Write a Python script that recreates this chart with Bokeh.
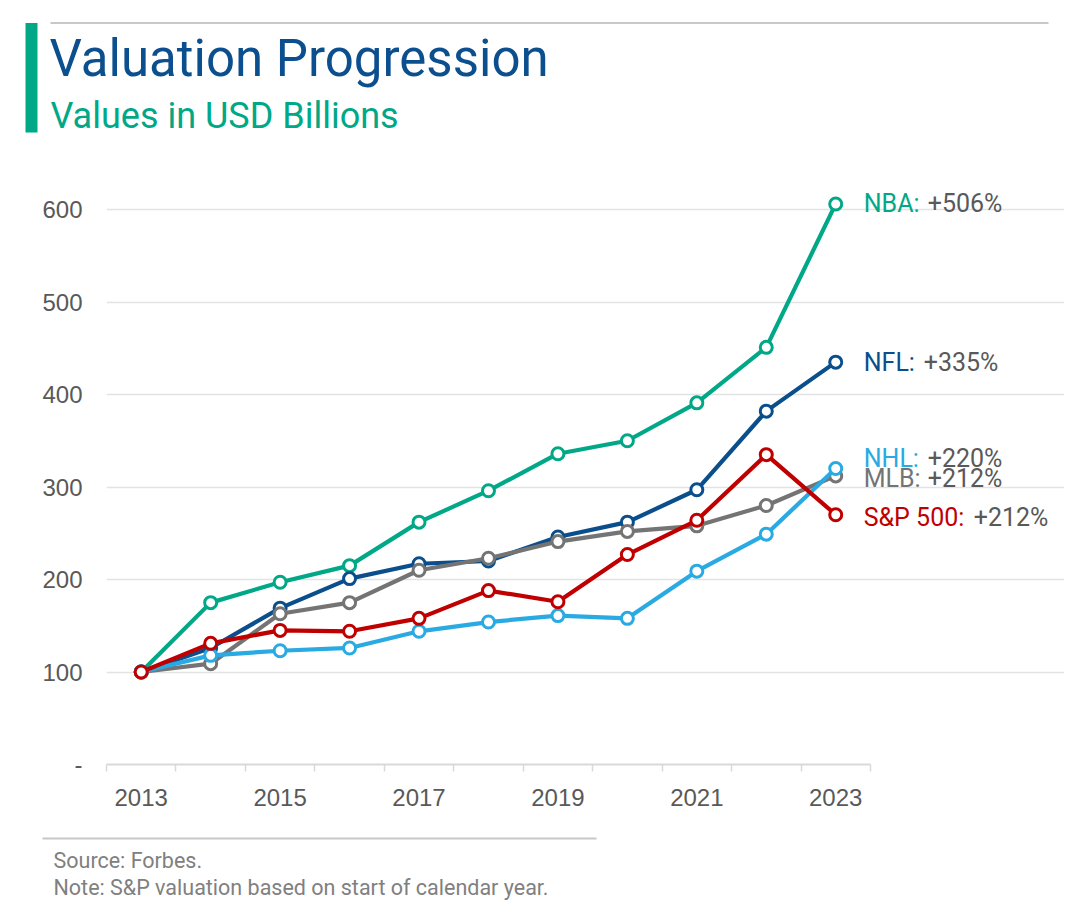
from bokeh.plotting import figure
from bokeh.models import Range1d, FixedTicker, ColumnDataSource
from bokeh.core.properties import value
from bokeh.embed import file_html
from bokeh.resources import INLINE

# ---------------- data ----------------
years = [2013, 2014, 2015, 2016, 2017, 2018, 2019, 2020, 2021, 2022, 2023]
year_tick_labels = ["2013", "2015", "2017", "2019", "2021", "2023"]
y_ticks = [0, 100, 200, 300, 400, 500, 600]
y_tick_labels = ["-", "100", "200", "300", "400", "500", "600"]

series_names = ["NBA", "NFL", "MLB", "NHL", "S&P 500"]
nba = [100, 175, 197, 215, 262, 296, 336, 350, 391, 451, 606]
nfl = [100, 126, 169, 201, 217, 220, 246, 262, 297, 382, 435]
mlb = [100, 109, 163, 175, 210, 223, 241, 252, 258, 280, 312]
nhl = [100, 118, 123, 126, 144, 154, 161, 158, 209, 249, 320]
sp500 = [100, 131, 145, 144, 158, 188, 176, 227, 264, 335, 270]
end_labels = ["NBA:", "NFL:", "MLB:", "NHL:", "S&P 500:"]
end_pcts = ["+506%", "+335%", "+212%", "+220%", "+212%"]

title = "Valuation Progression"
subtitle = "Values in USD Billions"
footnotes = ["Source: Forbes.", "Note: S&P valuation based on start of calendar year."]

# ---------------- styles / geometry ----------------
colors = {"NBA": "#00A887", "NFL": "#0A4E8C", "MLB": "#747474", "NHL": "#2AAAE2", "S&P 500": "#C00000"}
label_dy = {"NBA": 0, "NFL": 0, "MLB": 3, "NHL": -10, "S&P 500": 3}
pct_dx = {"NBA": 92, "NFL": 88, "MLB": 92, "NHL": 92, "S&P 500": 138}
TXT_GRAY = "#595959"
FONT = "Roboto"
TICK_FONT = "Liberation Sans"

W = 1064
HDR_H, MAIN_H, FTR_H = 160, 670, 74
MB_LEFT, MB_TOP, MB_BOTTOM = 106, 11, 66
FRAME_W = W - MB_LEFT
FRAME_H = MAIN_H - MB_TOP - MB_BOTTOM
PX_PER_YEAR = 69.45
PX_PER_UNIT = 0.925
X0 = years[0] - 0.5
X1 = X0 + FRAME_W / PX_PER_YEAR
Y1 = FRAME_H / PX_PER_UNIT


def blank(h):
    f = figure(width=W, height=h, x_range=Range1d(0, W), y_range=Range1d(h, 0),
               output_backend="svg", toolbar_location=None,
               x_axis_location=None, y_axis_location=None, min_border=0)
    f.outline_line_color = None
    f.grid.visible = False
    return f


# ---------------- header ----------------
hdr = blank(HDR_H)
hdr.segment(x0=[50], y0=[22.5], x1=[1048], y1=[22.5], line_color="#C8C8C8", line_width=2)
hdr.quad(left=[25], right=[37], top=[22.5], bottom=[132], fill_color="#00A887", line_color=None)
hdr.text(x=[49], y=[58], text=[title], text_font=value(FONT), text_font_size="51px",
         text_color="#0B4F8F", text_baseline="alphabetic", text_align="left")
hdr.text(x=[50], y=[115], text=[subtitle], text_font=value(FONT), text_font_size="36px",
         text_color="#00A887", text_baseline="alphabetic", text_align="left")

# ---------------- main chart ----------------
p = figure(width=W, height=MAIN_H, x_range=Range1d(X0, X1), y_range=Range1d(0, Y1),
           output_backend="svg", toolbar_location=None,
           min_border_left=MB_LEFT, min_border_right=0, min_border_top=MB_TOP,
           min_border_bottom=MB_BOTTOM)
p.outline_line_color = None
p.background_fill_color = "white"

xa = p.xaxis[0]
xa.ticker = FixedTicker(ticks=[int(t) for t in year_tick_labels],
                        minor_ticks=[y - 0.5 for y in years] + [years[-1] + 0.5])
xa.major_label_overrides = {int(t): t for t in year_tick_labels}
xa.bounds = (years[0] - 0.5, years[-1] + 0.5)
xa.axis_line_color = "#D9D9D9"
xa.axis_line_width = 2
xa.major_tick_line_color = None
xa.major_tick_out = 0
xa.major_tick_in = 0
xa.minor_tick_line_color = "#D9D9D9"
xa.minor_tick_line_width = 1.5
xa.minor_tick_out = 7
xa.minor_tick_in = 0
xa.major_label_standoff = 17
xa.major_label_text_font = TICK_FONT
xa.major_label_text_font_size = "24px"
xa.major_label_text_color = TXT_GRAY

ya = p.yaxis[0]
ya.ticker = FixedTicker(ticks=y_ticks, minor_ticks=[])
ya.major_label_overrides = {t: l for t, l in zip(y_ticks, y_tick_labels)}
ya.axis_line_color = None
ya.major_tick_line_color = None
ya.minor_tick_line_color = None
ya.major_tick_out = 0
ya.major_tick_in = 0
ya.major_label_standoff = 24
ya.major_label_text_font = TICK_FONT
ya.major_label_text_font_size = "24px"
ya.major_label_text_color = TXT_GRAY

p.xgrid.visible = False
p.ygrid.ticker = FixedTicker(ticks=y_ticks[1:], minor_ticks=[])
p.ygrid.grid_line_color = "#E3E3E3"
p.ygrid.grid_line_width = 1.5
p.ygrid.bounds = (years[0] - 0.5, years[-1] + 0.11)

data = {"NBA": nba, "NFL": nfl, "MLB": mlb, "NHL": nhl, "S&P 500": sp500}
for name in series_names:
    src = ColumnDataSource(dict(x=years, y=data[name]))
    c = colors[name]
    p.line("x", "y", source=src, line_color=c, line_width=4.2)
    p.scatter("x", "y", source=src, marker="circle", size=12, fill_color="white",
              line_color=c, line_width=3)

lab_src = ColumnDataSource(dict(
    x=[years[-1]] * len(series_names),
    y=[data[n][-1] for n in series_names],
    name=end_labels,
    pct=end_pcts,
    color=[colors[n] for n in series_names],
    dy=[label_dy[n] for n in series_names],
    dx=[pct_dx[n] for n in series_names],
))
p.text(x="x", y="y", text="name", source=lab_src, x_offset=28, y_offset="dy",
       text_color="color", text_font=value(FONT), text_font_size="25px",
       text_baseline="middle", text_align="left")
p.text(x="x", y="y", text="pct", source=lab_src, x_offset="dx", y_offset="dy",
       text_color=TXT_GRAY, text_font=value(FONT), text_font_size="25px",
       text_baseline="middle", text_align="left")

# ---------------- footer ----------------
ftr = blank(FTR_H)
ftr.segment(x0=[42], y0=[8], x1=[596], y1=[8], line_color="#C8C8C8", line_width=2)
ftr.text(x=[53, 53], y=[29.5, 56.5], text=footnotes, text_font=value(FONT), text_font_size="21.5px",
         text_color="#808080", text_baseline="alphabetic", text_align="left")

open("out.html", "w").write(file_html([hdr, p, ftr], INLINE))
